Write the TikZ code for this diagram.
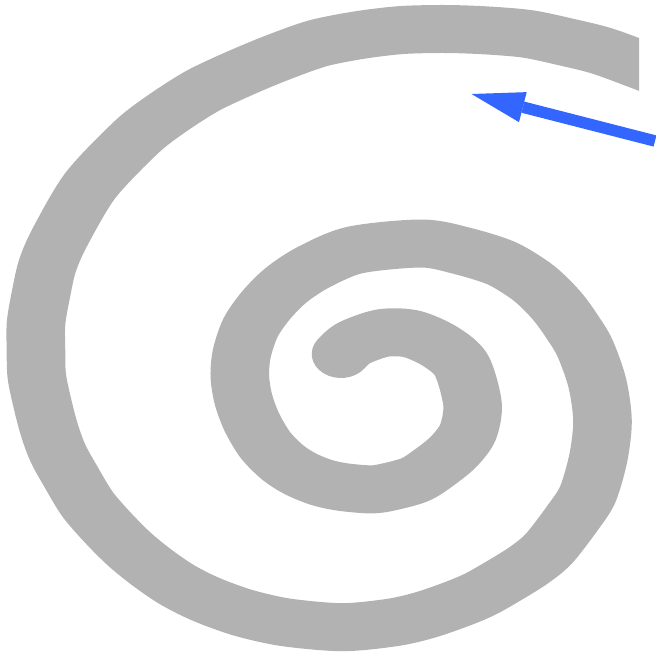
\documentclass[tikz,border=0pt]{standalone}
\usetikzlibrary{arrows.meta}
\definecolor{spiralgray}{RGB}{178,178,178}
\definecolor{arrowblue}{RGB}{51,102,255}
\tikzset{
  spiralstroke/.style={draw=spiralgray, line width=48pt, line cap=round, line join=round},
  bluearrow/.style={draw=arrowblue, line width=11.5pt, -{Triangle[length=53pt,width=31pt,line width=0pt]}}
}
\begin{document}
\begin{tikzpicture}[x=1pt,y=-1pt]
\useasboundingbox (0,0) rectangle (655,668);
\begin{scope}[xscale=0.819672, transform canvas={xscale=1.22}]
  \clip (0,0) rectangle (639,668);
  \draw[spiralstroke] plot[smooth, tension=0.5] coordinates {
    (341,354) (354,343) (383,333) (412,334) (440.6,346.7) (461.6,365.5)
    (472.5,404) (468,432) (454.3,451) (436.5,465.8) (415.6,479.4) (388.5,487)
    (370.7,489.4) (342.5,487) (321.7,482.5) (300.7,474) (283,462.7)
    (265.3,444.9) (251.7,421.9) (243.3,398.9) (239.8,375.9) (241.9,353)
    (250.7,327.3) (266.3,305) (286.2,285.1) (313.3,267.3) (355,250)
    (421.9,243.5) (462.6,251) (501.2,263.1) (529.4,279.9) (544.8,293)
    (558.7,308) (571,325) (584.8,347.7) (597.3,383) (602.5,420.8)
    (598.4,457.4) (587.9,494) (573.3,516.9) (549.3,548.2) (530.5,564)
    (511,576.5) (481.5,593.5) (456.9,604) (425,615) (392.7,622.4)
    (342.5,627.2) (287,622.5) (247.5,614) (219.3,604.6) (198,595.7)
    (175.5,583.8) (152,567.6) (129.5,549.3) (108,527.8) (87.7,504.4)
    (72,478.6) (57.5,452.2) (47.5,423.5) (37.2,379) (36,350.5)
    (36.1,322.7) (41.2,293) (47.6,265.2) (60.5,236) (90.8,184.9)
    (136.8,136.8) (167.1,113.4) (202.6,90.8) (240.2,73.1) (276.7,57.9)
    (317.5,43.4) (359.3,35.1) (401,30.1) (443.9,29) (484.5,30.3)
    (527.4,33.9) (566,42) (601.5,50.8) (639,64.4) (680,80)};
\end{scope}
\coordinate (arrowStart) at (655,141);
\coordinate (arrowTip) at (471.5,94);
\draw[bluearrow] (arrowStart) -- (arrowTip);
\end{tikzpicture}
\end{document}
